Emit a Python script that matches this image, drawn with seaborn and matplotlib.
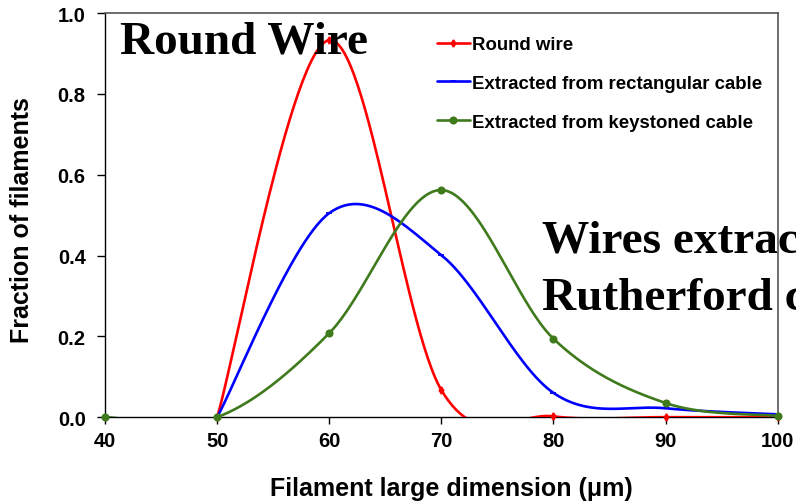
import numpy as np
import pandas as pd
import matplotlib
matplotlib.use("Agg")
import matplotlib.pyplot as plt
from matplotlib.lines import Line2D
import seaborn as sns

sns.set_theme(style="white")
plt.rcParams["font.family"] = ["Liberation Sans", "DejaVu Sans"]
plt.rcParams.update({"text.color": "black", "axes.labelcolor": "black",
                     "xtick.color": "black", "ytick.color": "black"})

# Filament size distributions (fraction of filaments per 10 um bin)
round_x = [50, 60, 70, 80, 90, 100]
round_y = [0.0, 0.933, 0.067, 0.002, 0.0, 0.0]

rect_x = [50, 60, 70, 80, 90, 100]
rect_y = [0.0, 0.505, 0.401, 0.060, 0.022, 0.007]

key_x = [40, 50, 60, 70, 80, 90, 100]
key_y = [0.0, 0.0, 0.208, 0.562, 0.194, 0.035, 0.003]

x_ticks = [40, 50, 60, 70, 80, 90, 100]
y_ticks = [0.0, 0.2, 0.4, 0.6, 0.8, 1.0]


def smooth_curve(xs, ys, n=60):
    """Cubic Bezier smoothing through the points (spreadsheet-style smoothed line)."""
    p = np.column_stack([xs, ys]).astype(float)
    m = len(p)
    out = []
    for i in range(m - 1):
        p0 = p[i - 1] if i > 0 else p[i]
        p1, p2 = p[i], p[i + 1]
        p3 = p[i + 2] if i + 2 < m else p[i + 1]
        c1 = p1 + (p2 - p0) / 6.0
        c2 = p2 - (p3 - p1) / 6.0
        t = np.linspace(0, 1, n)[:, None]
        seg = ((1 - t) ** 3) * p1 + 3 * ((1 - t) ** 2) * t * c1 + 3 * (1 - t) * t ** 2 * c2 + t ** 3 * p2
        out.append(seg if i == 0 else seg[1:])
    c = np.vstack(out)
    return c[:, 0], c[:, 1]


series = [
    ("Round wire", round_x, round_y, "#ff0000", "d", 3.5),
    ("Extracted from rectangular cable", rect_x, rect_y, "#0000ff", "_", 5),
    ("Extracted from keystoned cable", key_x, key_y, "#3f7a1c", "o", 4.5),
]

fig = plt.figure(figsize=(7.96, 5.02), dpi=100)
ax = fig.add_axes([0.132, 0.167, 0.845, 0.805])

# Titles inside the plot area (drawn beneath the curves)
title_kw = dict(ha="left", va="baseline", fontsize=34, fontweight="bold",
                family="Liberation Serif", zorder=1)
fig.text(120 / 796, 1 - 54 / 502, "Round Wire", **title_kw)
fig.text(542 / 796, 1 - 253 / 502, "Wires extracted from", **title_kw)
fig.text(542 / 796, 1 - 310 / 502, "Rutherford cable", **title_kw)

handles = []
for name, xs, ys, col, mk, ms in series:
    cx, cy = smooth_curve(xs, ys)
    df = pd.DataFrame({"x": cx, "y": cy})
    sns.lineplot(data=df, x="x", y="y", sort=False, estimator=None, ax=ax,
                 color=col, linewidth=1.9, zorder=3)
    pts = pd.DataFrame({"x": xs, "y": ys})
    ax.plot(pts["x"], pts["y"], linestyle="none", marker=mk, markersize=ms,
            color=col, markeredgecolor=col, markeredgewidth=1.3, zorder=4, clip_on=False)
    handles.append(Line2D([0], [0], color=col, linewidth=1.9, marker=mk,
                          markersize=ms, markeredgewidth=1.3, label=name))

ax.set_xlim(40, 100)
ax.set_ylim(0, 1.0)
ax.set_xticks(x_ticks)
ax.set_yticks(y_ticks)
ax.set_xticklabels([str(v) for v in x_ticks], fontsize=14.5, fontweight="bold")
ax.set_yticklabels([f"{v:.1f}" for v in y_ticks], fontsize=14.5, fontweight="bold")
ax.tick_params(axis="y", direction="out", length=6, width=1, bottom=True, left=True, pad=8)
ax.tick_params(axis="x", direction="out", length=5, width=1, bottom=True, left=True, pad=5)

ax.set_xlabel("Filament large dimension (\u03bcm)", fontsize=18, fontweight="bold")
ax.set_ylabel("Fraction of filaments", fontsize=18, fontweight="bold")
ax.xaxis.set_label_coords(0.515, -0.146)
ax.yaxis.set_label_coords(-0.106, 0.49)

for side in ["left", "bottom"]:
    ax.spines[side].set_color("black")
    ax.spines[side].set_linewidth(1.0)
for side in ["top", "right"]:
    ax.spines[side].set_color("#555555")
    ax.spines[side].set_linewidth(1.2)

leg = ax.legend(handles=handles, loc="upper left",
                bbox_to_anchor=(437 / 796, 1 - 37 / 502), bbox_transform=fig.transFigure,
                frameon=False, prop={"size": 13.4, "weight": "bold"},
                borderpad=0, borderaxespad=0,
                handlelength=1.75, handletextpad=0.15, labelspacing=1.17)

fig.savefig("out.png", dpi=100)
